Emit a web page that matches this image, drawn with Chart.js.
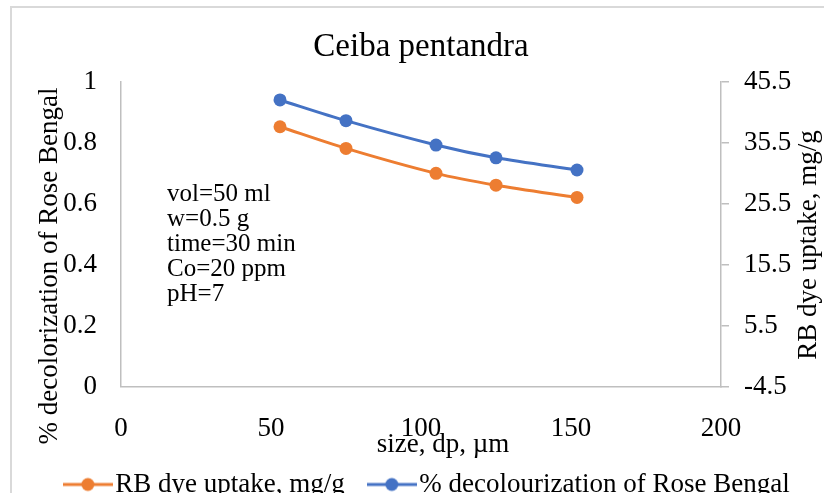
<!DOCTYPE html>
<html>
<head>
<meta charset="utf-8">
<script src="https://cdn.jsdelivr.net/npm/chart.js@4.4.1/dist/chart.umd.min.js"></script>
<style>
  html, body { margin: 0; padding: 0; background: #fff; overflow: hidden; }
</style>
</head>
<body>
<canvas id="chart" width="824" height="508"></canvas>
<script>
// particle size (µm)
const sizes = [53, 75, 105, 125, 152];
// RB dye uptake, mg/g (right axis)
const uptake = [38.15, 34.6, 30.5, 28.56, 26.54];
// % decolourization (left axis)
const decolour = [0.941, 0.873, 0.793, 0.751, 0.711];
const notes = ["vol=50 ml", "w=0.5 g", "time=30 min", "Co=20 ppm", "pH=7"];

const serif = "'Liberation Serif', 'Times New Roman', serif";
const orange = "#ED7D31";
const blue = "#4472C4";
const axisGrey = "#bfbfbf";

function legendIcon(color) {
  const c = document.createElement("canvas");
  c.width = 50; c.height = 16;
  const g = c.getContext("2d");
  g.strokeStyle = color; g.lineWidth = 3;
  g.beginPath(); g.moveTo(0, 8); g.lineTo(50, 8); g.stroke();
  g.fillStyle = color;
  g.beginPath(); g.arc(25, 8, 6.5, 0, Math.PI * 2); g.fill();
  return c;
}

function label(ctx, text, x, y, rot) {
  ctx.save();
  ctx.fillStyle = "#000";
  ctx.font = "27px " + serif;
  ctx.textAlign = "center";
  ctx.textBaseline = "middle";
  ctx.translate(x, y);
  ctx.rotate(rot);
  ctx.fillText(text, 0, 0);
  ctx.restore();
}

// frame, axis titles and the condition notes
const extras = {
  id: "extras",
  beforeDraw(chart) {
    const ctx = chart.ctx;
    ctx.save();
    ctx.fillStyle = "#fff";
    ctx.fillRect(0, 0, chart.width, chart.height);
    ctx.strokeStyle = "#d9d9d9";
    ctx.lineWidth = 2;
    ctx.strokeRect(11, 7, 900, 600);
    ctx.restore();
  },
  afterDraw(chart) {
    const ctx = chart.ctx;
    label(ctx, "% decolorization of Rose Bengal", 50, 266, -Math.PI / 2);
    label(ctx, "RB dye uptake, mg/g", 809, 245, -Math.PI / 2);
    label(ctx, "size, dp, µm", 443, 445, 0);

    ctx.save();
    ctx.fillStyle = "#000";
    ctx.font = "25px " + serif;
    ctx.textAlign = "left";
    ctx.textBaseline = "alphabetic";
    notes.forEach((t, i) => ctx.fillText(t, 167, 201 + i * 25));
    ctx.restore();
  }
};

new Chart(document.getElementById("chart"), {
  type: "line",
  data: {
    datasets: [{
        label: "RB dye uptake, mg/g",
        data: sizes.map((x, i) => ({x: x, y: uptake[i]})),
        yAxisID: "y2",
        borderColor: orange,
        backgroundColor: orange,
        borderWidth: 3,
        pointRadius: 6.5,
        pointHoverRadius: 6.5,
        pointBorderWidth: 0,
        tension: 0.3,
        fill: false
      },
      {
        label: "% decolourization of Rose Bengal",
        data: sizes.map((x, i) => ({x: x, y: decolour[i]})),
        yAxisID: "y",
        borderColor: blue,
        backgroundColor: blue,
        borderWidth: 3,
        pointRadius: 6.5,
        pointHoverRadius: 6.5,
        pointBorderWidth: 0,
        tension: 0.3,
        fill: false
      }
    ]
  },
  options: {
    responsive: false,
    animation: false,
    layout: { padding: { left: 39.5, right: 0, top: 0, bottom: 0 } },
    plugins: {
      title: {
        display: true,
        fullSize: false,
        text: "Ceiba pentandra",
        color: "#000",
        font: { family: serif, size: 33, weight: "normal" },
        padding: { top: 27.7, bottom: 14.7 }
      },
      legend: {
        position: "bottom",
        labels: {
          color: "#000",
          font: { family: serif, size: 27 },
          usePointStyle: true,
          pointStyleWidth: 28,
          padding: 33,
          generateLabels(chart) {
            const items = Chart.defaults.plugins.legend.labels.generateLabels(chart);
            items.forEach((it, i) => { it.pointStyle = legendIcon(chart.data.datasets[i].borderColor); });
            return items;
          }
        }
      },
      tooltip: { enabled: false }
    },
    scales: {
      x: {
        type: "linear",
        min: 0, max: 200,
        ticks: { stepSize: 50, color: "#000", font: { family: serif, size: 27 }, padding: 26 },
        grid: { display: false, drawTicks: false },
        border: { display: true, color: axisGrey, width: 1.5 },
        afterFit(s) { s.height = 51.5; }
      },
      y: {
        position: "left",
        min: 0, max: 1,
        ticks: { stepSize: 0.2, color: "#000", font: { family: serif, size: 27 }, padding: 24,
                 callback: v => +v.toFixed(1) },
        grid: { display: false, drawTicks: false },
        border: { display: true, color: axisGrey, width: 1.5 },
        afterFit(s) { s.width = 81.5; }
      },
      y2: {
        position: "right",
        min: -4.5, max: 45.5,
        ticks: { stepSize: 10, color: "#000", font: { family: serif, size: 27 }, padding: 15,
                 callback: v => +v.toFixed(1) },
        grid: { display: true, drawOnChartArea: false, drawTicks: true, tickLength: 8, color: axisGrey, lineWidth: 1.5 },
        border: { display: true, color: axisGrey, width: 1.5 },
        afterFit(s) { s.width = 103; }
      }
    }
  },
  plugins: [extras]
});
</script>
</body>
</html>
